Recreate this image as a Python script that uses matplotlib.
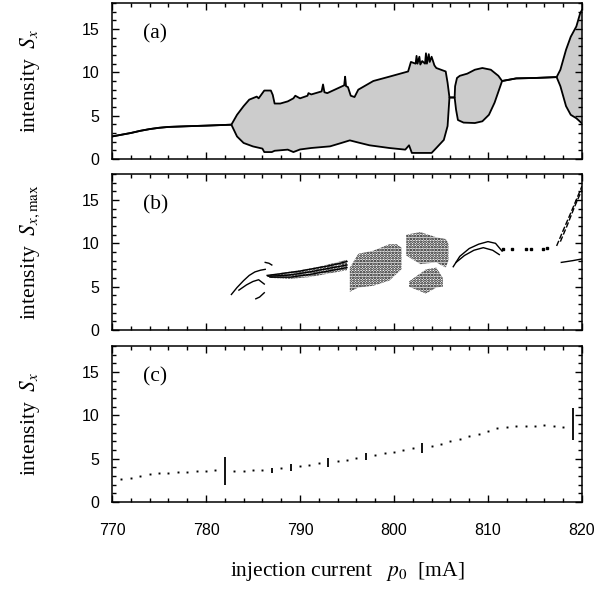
import matplotlib
matplotlib.use("Agg")
import matplotlib.pyplot as plt
import numpy as np

# --------- DATA ---------
# panel (a): upper / lower envelope of S_x versus p0
A_UP_P = [770, 771, 772, 773, 774, 775, 776, 778, 780, 782.7, 783.3, 784.0, 784.6, 785.4, 785.6,
          786.2, 786.9, 787.1, 787.3, 787.9, 788.7, 789.3, 789.5, 790.0, 790.8, 790.9,
          791.2, 792.3, 792.45, 792.6, 792.9, 794.1, 794.7, 794.8, 794.9, 795.1, 795.4,
          795.8, 796.2, 797.8, 799.5, 801.5, 801.8, 802.3, 802.4, 802.5, 802.7, 802.8,
          803.0, 803.3, 803.4, 803.5, 803.7, 803.8, 804.0, 804.3, 804.5, 805.5, 805.7,
          805.9, 806.45, 806.5, 806.7, 807.0, 807.8, 808.6, 809.4, 810.3, 811.1, 811.5,
          813.0, 815.0, 817.3, 817.7, 818.3, 818.8, 819.4, 819.8, 820.0]
A_UP_S = [2.6, 2.8, 3.0, 3.25, 3.45, 3.6, 3.7, 3.78, 3.85, 3.96, 5.1, 6.1, 6.85, 7.2, 7.0,
          7.9, 7.9, 7.4, 6.4, 6.4, 6.65, 7.0, 7.3, 7.0, 7.3, 7.6,
          7.45, 7.8, 8.6, 7.7, 7.6, 8.2, 8.5, 9.5, 8.4, 8.3, 7.3,
          7.15, 8.0, 9.0, 9.5, 10.1, 11.2, 11.0, 11.9, 11.0, 11.8, 10.9,
          11.3, 11.0, 12.2, 11.0, 12.1, 11.2, 11.8, 10.8, 10.5, 10.1, 8.8,
          7.1, 7.1, 8.4, 9.35, 9.6, 9.85, 10.3, 10.5, 10.3, 9.6, 9.0,
          9.3, 9.35, 9.45, 10.3, 12.6, 14.1, 15.3, 16.8, 17.2]
A_LO_P = [770, 771, 772, 773, 774, 775, 776, 778, 780, 782.7, 783.3, 784.0, 785.0, 786.0, 786.2,
          787.0, 787.3, 788.7, 789.3, 790.0, 791.2, 793.2, 794.4, 795.3, 796.2, 797.4,
          799.5, 801.2, 801.6, 801.9, 804.0, 804.5, 805.3, 805.7, 805.9, 806.45, 806.6,
          806.8, 807.4, 808.6, 809.4, 810.1, 810.7, 811.5, 813.0, 815.0, 817.3, 817.7,
          818.3, 818.8, 819.4, 820.0]
A_LO_S = [2.6, 2.8, 3.0, 3.25, 3.45, 3.6, 3.7, 3.78, 3.85, 3.96, 2.6, 1.85, 1.45, 1.2, 0.8,
          0.8, 0.95, 1.08, 0.8, 1.1, 1.27, 1.46, 1.85, 2.15, 1.9, 1.58,
          1.27, 1.08, 1.58, 0.7, 0.7, 1.27, 2.2, 3.8, 7.1, 7.1, 5.7,
          4.5, 4.2, 4.15, 4.35, 5.1, 6.5, 9.0, 9.3, 9.35, 9.45, 8.4,
          6.1, 5.1, 4.7, 4.1]

# panel (b): chaotic clouds (outline p, S) and periodic branches
B_CLOUD_P = [
    [786.5, 788.0, 790.0, 792.0, 793.5, 795.0, 795.0, 793.5, 791.0, 789.0, 787.0, 786.5],
    [795.3, 796.2, 797.8, 799.5, 800.3, 800.8, 800.8, 800.3, 799.5, 797.8, 796.2, 795.3],
    [801.3, 802.8, 804.5, 805.5, 805.8, 805.8, 805.5, 804.5, 802.8, 801.3],
    [801.6, 802.5, 803.4, 804.5, 805.2, 805.2, 804.5, 803.4, 802.5, 801.6],
]
B_CLOUD_S = [
    [6.3, 6.6, 6.9, 7.3, 7.7, 8.1, 6.9, 6.6, 6.1, 5.9, 6.0, 6.3],
    [7.2, 8.8, 9.15, 9.9, 9.9, 9.5, 7.0, 6.5, 5.7, 5.1, 4.9, 4.4],
    [11.0, 11.3, 10.7, 10.5, 10.0, 8.0, 7.2, 7.8, 7.6, 8.6],
    [5.6, 6.3, 7.0, 7.2, 6.0, 5.0, 4.9, 4.2, 4.6, 5.0],
]
B_LINE_P = [
    [782.7, 783.3, 784.0, 784.6, 785.2, 785.8, 786.3],
    [783.5, 784.3, 785.0, 785.6, 786.2],
    [785.3, 785.7, 786.2],
    [786.3, 786.7, 787.0],
    [786.5, 788.0, 790.0, 792.0, 793.5, 795.0],
    [786.6, 788.5, 790.5, 792.5, 794.0, 795.0],
    [786.8, 789.0, 791.0, 793.5, 795.0],
    [806.3, 807.0, 808.0, 809.0, 810.0, 810.8, 811.5],
    [806.6, 807.5, 808.5, 809.5, 810.5, 811.2],
    [817.8, 819.0, 820.0],
]
B_LINE_S = [
    [4.1, 4.9, 5.7, 6.3, 6.7, 6.9, 7.0],
    [4.6, 5.2, 5.6, 5.8, 5.3],
    [3.6, 3.8, 4.3],
    [7.8, 7.7, 7.5],
    [6.3, 6.5, 6.8, 7.2, 7.5, 7.9],
    [6.2, 6.3, 6.6, 7.0, 7.3, 7.5],
    [6.1, 6.1, 6.4, 6.9, 7.2],
    [7.3, 8.5, 9.4, 9.9, 10.2, 10.0, 9.1],
    [7.8, 8.6, 9.2, 9.5, 9.2, 8.7],
    [7.8, 8.0, 8.2],
]
# broken rising branches near p0 = 820
B_DASH_P = [
    [817.3, 818.0, 818.8, 819.5, 820.0],
    [817.7, 818.4, 819.2, 820.0],
]
B_DASH_S = [
    [9.7, 11.5, 13.5, 15.3, 16.6],
    [10.2, 12.0, 14.2, 16.2],
]
B_DOT_P = [811.6, 812.5, 814.0, 814.6, 815.8, 816.3]
B_DOT_S = [9.3, 9.35, 9.35, 9.4, 9.4, 9.45]

# panel (c): sampled S_x and ranges (vertical bars)
C_P = [771, 772, 773, 774, 775, 776, 777, 778, 779, 780, 781, 783, 784, 785, 786,
       788, 790, 791, 792, 794, 795, 796, 798, 799, 800, 801, 802, 804, 805, 806,
       807, 808, 809, 810, 811, 812, 813, 814, 815, 816, 817, 818]
C_S = [2.6, 2.8, 3.0, 3.2, 3.3, 3.4, 3.45, 3.5, 3.55, 3.6, 3.7, 3.6, 3.6, 3.65, 3.7,
       3.9, 4.1, 4.3, 4.5, 4.7, 4.9, 5.1, 5.4, 5.6, 5.8, 6.0, 6.2, 6.5, 6.7, 7.0,
       7.3, 7.6, 7.9, 8.2, 8.5, 8.7, 8.8, 8.8, 8.8, 8.85, 8.8, 8.7]
C_BAR_P = [782, 787, 789, 793, 797, 803, 819]
C_BAR_LO = [2.0, 3.4, 3.6, 4.0, 4.9, 5.7, 7.1]
C_BAR_HI = [5.2, 3.9, 4.4, 5.1, 5.7, 6.8, 10.8]

YLABELS = [r"intensity  $S_x$", r"intensity  $S_{x,\mathrm{max}}$", r"intensity  $S_x$"]
PANEL_TAGS = ["(a)", "(b)", "(c)"]

# --------- STYLE ---------
plt.rcParams["mathtext.fontset"] = "stix"
plt.rcParams["hatch.linewidth"] = 1.3
SERIF = "Liberation Serif"
SANS = "Liberation Sans"

fig = plt.figure(figsize=(6.11, 5.89), dpi=100)
left, width, height = 112 / 611, 470 / 611, 156 / 589
bottoms = [1 - 159 / 589, 1 - 330 / 589, 1 - 502 / 589]
axes = [fig.add_axes([left, b, width, height]) for b in bottoms]

for i, ax in enumerate(axes):
    ax.set_xlim(770, 820)
    ax.set_ylim(0, 18)
    ax.set_xticks(np.arange(770, 821, 10))
    ax.set_xticks(np.arange(770, 821, 2), minor=True)
    ax.set_yticks([0, 5, 10, 15])
    ax.set_yticks(np.arange(0, 18.1, 1), minor=True)
    ax.tick_params(which="both", direction="in", top=True, right=True, width=1.0)
    ax.tick_params(which="major", length=5)
    ax.tick_params(which="minor", length=3)
    ax.tick_params(axis="y", pad=9)
    ax.tick_params(axis="x", pad=15)
    for lab in ax.get_xticklabels() + ax.get_yticklabels():
        lab.set_fontfamily(SANS)
        lab.set_fontsize(11.5)
    if i < 2:
        ax.set_xticklabels([])
    for sp in ax.spines.values():
        sp.set_linewidth(1.1)
    ax.set_ylabel(YLABELS[i], fontfamily=SERIF, fontsize=15.5)
    ax.yaxis.set_label_coords(-0.15, 0.5)
    ax.text(0.065, 0.80, PANEL_TAGS[i], transform=ax.transAxes, fontfamily=SERIF,
            fontsize=15.5, va="center", ha="left")

# panel (a)
ax = axes[0]
poly_p = np.concatenate([A_UP_P, A_LO_P[::-1]])
poly_s = np.concatenate([A_UP_S, A_LO_S[::-1]])
ax.fill(poly_p, poly_s, color="#cccccc", linewidth=0)
ax.plot(A_UP_P, A_UP_S, color="black", lw=1.3)
ax.plot(A_LO_P, A_LO_S, color="black", lw=1.3)

# panel (b)
ax = axes[1]
for cp, cs in zip(B_CLOUD_P, B_CLOUD_S):
    ax.fill(cp, cs, facecolor="none", edgecolor="black", hatch="......", linewidth=0)
for lp, ls in zip(B_LINE_P, B_LINE_S):
    ax.plot(lp, ls, color="black", lw=1.0)
for lp, ls in zip(B_DASH_P, B_DASH_S):
    ax.plot(lp, ls, color="black", lw=1.0, ls=(0, (4, 1.5)))
ax.plot(B_DOT_P, B_DOT_S, ls="none", marker="s", ms=1.5, color="black")

# panel (c)
ax = axes[2]
ax.plot(C_P, C_S, ls="none", marker="s", ms=1.4, mew=0, color="black")
ax.vlines(C_BAR_P, C_BAR_LO, C_BAR_HI, color="black", lw=1.3)
ax.set_xlabel(r"injection current   $p_0$  [mA]", fontfamily=SERIF, fontsize=15.5,
              labelpad=16)

plt.savefig("out.png", dpi=100)
plt.close()
